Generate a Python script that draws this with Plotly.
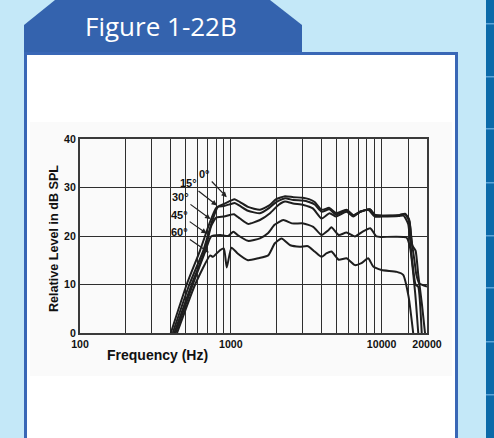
import math
import plotly.graph_objects as go

# ---------------- data ----------------
angles = ["0°", "15°", "30°", "45°", "60°"]

freq_0 = [400, 510, 625, 720, 800, 900, 1000, 1060, 1150, 1300, 1560, 1800, 2000, 2290, 2600, 3000, 3300,
          3600, 4000, 4500, 5000, 5850, 6500, 7200, 8400, 9000, 10000, 13000, 14300, 15200, 15800, 16500,
          17000, 17800, 20000]
level_0 = [0, 10, 17, 22.5, 25.8, 26.6, 27.3, 27.6, 27.0, 26.0, 25.4, 26.3, 27.6, 28.2, 28.0, 27.9, 27.6,
           27.0, 25.4, 25.8, 24.7, 25.4, 24.3, 25.0, 25.5, 24.4, 24.2, 24.3, 24.6, 23.5, 19.0, 15.0,
           12.0, 10.2, 9.6]

freq_15 = [412, 531, 657, 760, 820, 900, 1000, 1060, 1150, 1300, 1560, 1800, 2000, 2290, 2600, 3000, 3300,
           3600, 4000, 4500, 5000, 5850, 6500, 7200, 8400, 9000, 10000, 13000, 14300, 15300, 16000, 16800,
           17500, 18500, 19400]
level_15 = [0, 10, 17, 23.5, 26.0, 26.2, 26.6, 26.8, 26.2, 25.2, 24.7, 25.8, 27.0, 27.8, 27.4, 27.3, 27.0,
            26.5, 25.0, 25.5, 24.4, 25.3, 24.2, 25.0, 25.5, 24.3, 24.2, 24.3, 24.5, 23.0, 18.0, 17.0,
            12.0, 6.0, 0]

freq_30 = [422, 550, 674, 740, 800, 900, 1000, 1050, 1150, 1300, 1560, 1820, 2070, 2290, 2590, 3030, 3500,
           4000, 4520, 5000, 5850, 6500, 7200, 8150, 9000, 10000, 13000, 14000, 15000, 15800, 16800,
           17500, 18450]
level_30 = [0, 10, 17, 22.0, 23.8, 24.0, 24.4, 24.5, 23.6, 22.5, 23.3, 24.7, 26.4, 27.1, 26.7, 26.4, 25.7,
            23.6, 24.7, 24.0, 25.0, 24.0, 25.0, 25.4, 24.0, 24.0, 24.1, 24.2, 22.5, 16.0, 10.0,
            9.5, 0]

freq_45 = [430, 560, 680, 740, 850, 960, 1040, 1110, 1300, 1560, 1770, 1950, 2230, 2540, 3030, 3520, 4000,
           4440, 4650, 5200, 5850, 6650, 7500, 8400, 9250, 10000, 14600, 15400, 16700, 17500]
level_45 = [0, 10, 17, 19.9, 20.2, 20.0, 20.9, 20.2, 19.0, 19.5, 20.6, 22.3, 23.3, 22.6, 22.6, 21.9, 20.2,
            21.2, 21.8, 20.2, 20.7, 19.9, 20.9, 21.6, 19.9, 19.8, 19.7, 17.8, 8.2, 0]

freq_60 = [440, 580, 730, 760, 850, 900, 940, 1010, 1110, 1300, 1520, 1770, 1960, 2170, 2480, 2870, 3250,
           3600, 4000, 4300, 4650, 5200, 5850, 6650, 7350, 8150, 8800, 10000, 12600, 13900, 15100, 16200]
level_60 = [0, 10, 16.0, 15.7, 17.1, 17.4, 13.5, 17.6, 16.4, 15.0, 15.4, 16.0, 18.5, 19.5, 18.1, 17.8, 17.9,
            16.8, 15.7, 16.4, 16.8, 15.1, 15.4, 14.0, 14.4, 15.4, 13.7, 13.0, 12.6, 12.0, 7.5, 0]

series_freq = [freq_0, freq_15, freq_30, freq_45, freq_60]
series_level = [level_0, level_15, level_30, level_45, level_60]

# where each angle label's pointer lands (frequency, level)
label_freq = [940, 809, 733, 692, 716]
label_level = [28.0, 26.3, 23.5, 20.5, 16.6]

x_grid = [100, 200, 300, 400, 500, 600, 700, 800, 900, 1000, 2000, 3000, 4000, 5000, 6000, 7000, 8000,
          9000, 10000, 15000, 20000]
x_tick_text = {100: "100", 1000: "1000", 10000: "10000", 20000: "20000"}
y_ticks = [0, 10, 20, 30, 40]

title_text = "Figure 1-22B"
x_title = "Frequency (Hz)"
y_title = "Relative Level in dB SPL"

# ---------------- layout helpers ----------------
W, H = 494, 438
L, R, T, B = 80, 427, 139, 333


def X(px):
    return (px - L) / (R - L)


def Y(py):
    return (B - py) / (B - T)


def path(points):
    return "M " + " L ".join(f"{X(a):.5f},{Y(b):.5f}" for a, b in points) + " Z"


fig = go.Figure()

for fr, lv, name in zip(series_freq, series_level, angles):
    fig.add_trace(go.Scatter(x=fr, y=lv, mode="lines", name=name, showlegend=False,
                             line=dict(color="#1e1e1e", width=2, shape="spline", smoothing=0.5),
                             hoverinfo="skip"))

shapes = []
# tab
shapes.append(dict(type="path", xref="paper", yref="paper", layer="below",
                   path=path([(24, 54), (24, 25), (55, 0), (270, 0), (302, 25), (302, 54)]),
                   fillcolor="#3463ae", line=dict(width=0)))
# white panel
shapes.append(dict(type="rect", xref="paper", yref="paper", layer="below",
                   x0=X(25.5), x1=X(456.5), y0=Y(445), y1=Y(53.5),
                   fillcolor="#ffffff", line=dict(color="#3967b6", width=3)))
# faint scanned area
shapes.append(dict(type="rect", xref="paper", yref="paper", layer="below",
                   x0=X(30), x1=X(452), y0=Y(376), y1=Y(122),
                   fillcolor="#fafafa", line=dict(width=0)))
# right strip
shapes.append(dict(type="rect", xref="paper", yref="paper", layer="below",
                   x0=X(486), x1=X(494), y0=Y(438), y1=Y(0),
                   fillcolor="#0b6aa9", line=dict(width=0)))
for yy in [23, 76, 128, 182, 235, 287, 341, 394]:
    shapes.append(dict(type="rect", xref="paper", yref="paper", layer="below",
                       x0=X(486), x1=X(494), y0=Y(yy + 1.5), y1=Y(yy),
                       fillcolor="#5ea5d8", line=dict(width=0)))

annotations = []
annotations.append(dict(text=title_text, xref="paper", yref="paper", x=X(161), y=Y(26),
                        xanchor="center", yanchor="middle", showarrow=False,
                        font=dict(family="Open Sans", size=26, color="#ffffff")))
annotations.append(dict(text=x_title, xref="paper", yref="paper", x=X(157), y=Y(355),
                        xanchor="center", yanchor="middle", showarrow=False,
                        font=dict(family="Liberation Sans", size=14, color="#111111", weight="bold")))
annotations.append(dict(text=y_title, xref="paper", yref="paper", x=X(54), y=Y(239),
                        xanchor="center", yanchor="middle", showarrow=False, textangle=-90,
                        font=dict(family="Liberation Sans", size=12.6, color="#111111", weight="bold")))

offsets = [(-22, -23), (-28, -22), (-30, -22), (-27, -19), (-29, -20)]
for name, f, lv, (ax, ay) in zip(angles, label_freq, label_level, offsets):
    annotations.append(dict(text=name, x=math.log10(f), y=lv, xref="x", yref="y",
                            showarrow=True, ax=ax, ay=ay, arrowhead=2, arrowsize=0.9,
                            arrowwidth=1.2, arrowcolor="#222222", standoff=0, startstandoff=0,
                            font=dict(family="Liberation Sans", size=11, color="#111111", weight="bold")))

tick_font = dict(family="Liberation Sans", size=10.6, color="#111111", weight="bold")
fig.update_layout(
    width=W, height=H,
    margin=dict(l=L, r=W - R, t=T, b=H - B, pad=0),
    paper_bgcolor="#c4e8f8",
    plot_bgcolor="rgba(0,0,0,0)",
    shapes=shapes,
    annotations=annotations,
    xaxis=dict(type="log", range=[2, math.log10(20000)],
               tickmode="array", tickvals=x_grid,
               ticktext=[x_tick_text.get(v, "") for v in x_grid],
               showgrid=True, gridcolor="#2e2e2e", gridwidth=1.2,
               showline=True, linecolor="#3a3a3a", linewidth=2, mirror=True,
               ticks="", zeroline=False, tickfont=tick_font),
    yaxis=dict(range=[0, 40], tickmode="array", tickvals=y_ticks,
               showgrid=True, gridcolor="#2e2e2e", gridwidth=1.2,
               showline=True, linecolor="#3a3a3a", linewidth=2, mirror=True,
               ticks="", zeroline=False, tickfont=tick_font),
)

fig.write_html("out.html")
